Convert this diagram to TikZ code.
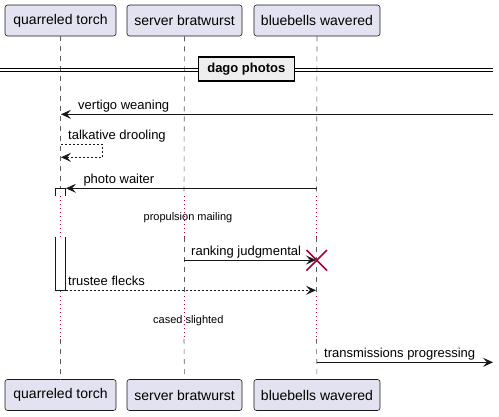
\documentclass[tikz,border=0pt]{standalone}
\usepackage{fontspec}
\setmainfont{Liberation Sans}
\usetikzlibrary{arrows.meta}
\definecolor{partfill}{HTML}{E2E2F0}
\definecolor{linec}{HTML}{181818}
\definecolor{delayc}{HTML}{A80036}
\definecolor{divfill}{HTML}{EEEEEE}
\begin{document}
\begin{tikzpicture}[x=1pt,y=-1pt,
  part/.style={draw=linec, fill=partfill, rounded corners=2.5pt, minimum height=31pt, inner sep=0pt, line width=0.6pt, font=\fontsize{14}{16}\selectfont},
  lifeline/.style={draw=linec!70, line width=0.6pt, dash pattern=on 5pt off 5pt},
  delayline/.style={draw=delayc, line width=0.8pt, dash pattern=on 0.8pt off 3.2pt},
  msg/.style={draw=linec, line width=0.8pt, -{Stealth[length=10pt,width=9pt,inset=4pt]}},
  rmsg/.style={msg, dash pattern=on 2pt off 2pt},
  mlabel/.style={anchor=base west, inner sep=0pt, font=\fontsize{13}{15}\selectfont},
  dlabel/.style={anchor=base, inner sep=0pt, font=\fontsize{11}{13}\selectfont},
  actbox/.style={draw=linec, fill=white, line width=0.8pt},
  divbox/.style={draw=black, fill=divfill, line width=1.5pt, minimum width=96pt, minimum height=24pt, inner sep=0pt, font=\bfseries\fontsize{13}{15}\selectfont},
  kill/.style={draw=delayc, line width=1.6pt}
]
\useasboundingbox (0,0) rectangle (499,416);

% participants
\node[part, minimum width=111pt] (qt) at (60.5,20.5) {quarreled torch};
\node[part, minimum width=115pt] (sb) at (184.5,20.5) {server bratwurst};
\node[part, minimum width=126pt] (bw) at (317,20.5) {bluebells wavered};
\node[part, minimum width=111pt] (qtb) at (60.5,395) {quarreled torch};
\node[part, minimum width=115pt] (sbb) at (184.5,395) {server bratwurst};
\node[part, minimum width=126pt] (bwb) at (317,395) {bluebells wavered};

% lifeline key coordinates
\foreach \n/\x in {q/60.5,s/184,b/316.5}{
  \coordinate (\n1) at (\x,196);
  \coordinate (\n2) at (\x,237);
  \coordinate (\n3) at (\x,296);
  \coordinate (\n4) at (\x,339);
}
\foreach \n/\t/\bb in {q/qt/qtb,s/sb/sbb,b/bw/bwb}{
  \draw[lifeline] (\t.south) -- (\n1);
  \draw[delayline] (\n1) -- (\n2);
  \draw[lifeline] (\n2) -- (\n3);
  \draw[delayline] (\n3) -- (\n4);
  \draw[lifeline] (\n4) -- (\bb.north);
}

% divider
\coordinate (dl) at (0,70);
\coordinate (dr) at (493,70);
\draw[line width=0.8pt] ([yshift=-1.5pt]dl) -- ([yshift=-1.5pt]dr);
\draw[line width=0.8pt] ([yshift=1.5pt]dl) -- ([yshift=1.5pt]dr);
\node[divbox] (div) at (246.3,69) {dago photos};

% vertigo weaning
\coordinate (vwS) at (493,114.3);
\coordinate (vwE) at (61,114.3);
\draw[msg] (vwS) -- (vwE);
\node[mlabel] (vwL) at (78,109.3) {vertigo weaning};

% talkative drooling (self)
\coordinate (tdS) at (61,144.3);
\coordinate (tdR) at (102.7,144.3);
\coordinate (tdR2) at (102.7,157.3);
\coordinate (tdE) at (61,157.3);
\draw[rmsg] (tdS) -- (tdR) -- (tdR2) -- (tdE);
\node[mlabel] (tdL) at (68,139.3) {talkative drooling};

% activation top piece
\coordinate (a1) at (55.5,196);
\coordinate (a2) at (55.5,188.3);
\coordinate (a3) at (65.5,188.3);
\coordinate (a4) at (65.5,196);
\filldraw[actbox] (a1) -- (a2) -- (a3) -- (a4);
\draw[delayline] (q1) -- (q2);

% photo waiter
\coordinate (pwS) at (316.5,188.3);
\coordinate (pwE) at (66,188.3);
\draw[msg] (pwS) -- (pwE);
\node[mlabel] (pwL) at (83.3,183.3) {photo waiter};

% delay 1
\node[dlabel] (d1) at (188,220.7) {propulsion mailing};

% activation lower piece
\coordinate (b1) at (55.5,237);
\coordinate (b2) at (55.5,290.3);
\coordinate (b3) at (65.5,290.3);
\coordinate (b4) at (65.5,237);
\filldraw[actbox] (b1) -- (b2) -- (b3) -- (b4);

% ranking judgmental
\coordinate (rjS) at (184,260);
\coordinate (rjE) at (316,260);
\draw[msg] (rjS) -- (rjE);
\node[mlabel] (rjL) at (191,255) {ranking judgmental};
\coordinate (x1) at (306.5,250);
\coordinate (x2) at (327,270.5);
\coordinate (x3) at (306.5,270.5);
\coordinate (x4) at (327,250);
\draw[kill] (x1) -- (x2);
\draw[kill] (x3) -- (x4);

% trustee flecks
\coordinate (tfS) at (66,290.3);
\coordinate (tfE) at (316,290.3);
\draw[rmsg] (tfS) -- (tfE);
\node[mlabel] (tfL) at (68,285.3) {trustee flecks};

% delay 2
\node[dlabel] (d2) at (188.3,323.7) {cased slighted};

% transmissions progressing
\coordinate (tpS) at (316.5,362.3);
\coordinate (tpE) at (493,362.3);
\draw[msg] (tpS) -- (tpE);
\node[mlabel] (tpL) at (324,357.3) {transmissions progressing};
\end{tikzpicture}
\end{document}
